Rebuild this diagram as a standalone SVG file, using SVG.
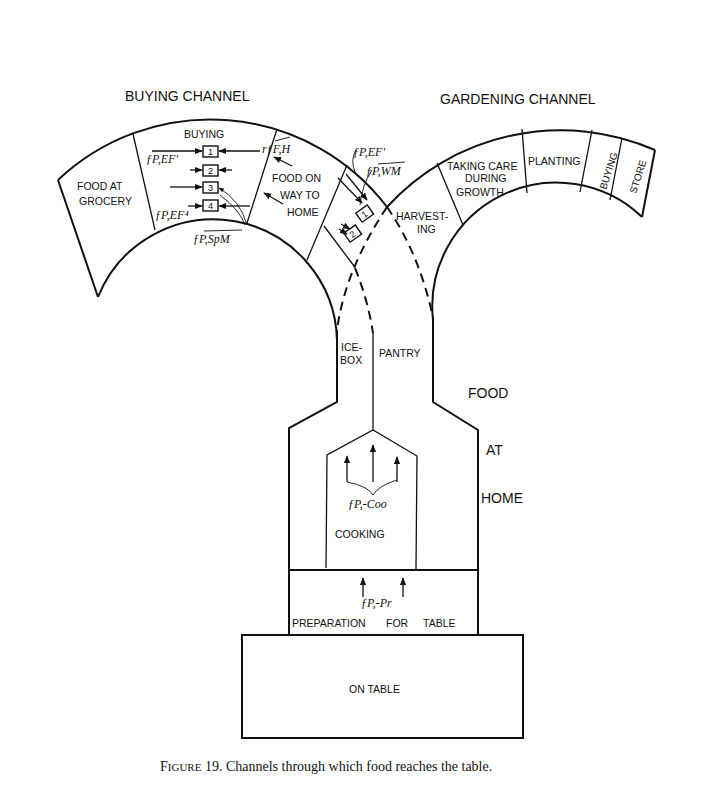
<svg xmlns="http://www.w3.org/2000/svg" width="702" height="804" viewBox="0 0 702 804">
<style>
.s{fill:none;stroke:#111;stroke-width:2}
.t{fill:none;stroke:#111;stroke-width:1.3}
.d{fill:none;stroke:#111;stroke-width:2;stroke-dasharray:9 6}
.th{fill:none;stroke:#111;stroke-width:0.9}
text{font-family:"Liberation Sans",Arial,sans-serif;font-size:10.5px;fill:#111}
.h{font-size:14px}
.n{font-size:9px}
.r{font-size:10px}
.f{font-family:"Liberation Serif",serif;font-style:italic;font-size:12px}
.c{font-family:"Liberation Serif",serif;font-size:14px}
.c2{font-family:"Liberation Serif",serif;font-size:11px}
.b{fill:#fff;stroke:#111;stroke-width:1.4}
</style>
<defs>
<marker id="a" viewBox="0 0 10 10" refX="9" refY="5" markerWidth="6" markerHeight="6" orient="auto"><path d="M0,1 L10,5 L0,9 z" fill="#111"/></marker>
</defs>
<rect width="702" height="804" fill="#fff"/>
<g id="buying-arch">
<path class="s" d="M58,180 A222,222 0 0 1 387,207"/>
<path class="s" d="M98,297 A124,124 0 0 1 337,340"/>
<line class="s" x1="58" y1="180" x2="98" y2="297"/>
<line class="t" x1="133" y1="134" x2="155" y2="230"/>
<line class="t" x1="277" y1="129" x2="247" y2="223"/>
<line class="t" x1="347" y1="165" x2="307" y2="260"/>
<line class="t" x1="324" y1="226" x2="354" y2="266"/>
<text class="h" x="125" y="101">BUYING CHANNEL</text>
<text x="77" y="190">FOOD AT</text><text x="79" y="205">GROCERY</text>
<text x="184" y="138">BUYING</text>
<text x="272" y="182">FOOD ON</text><text x="280" y="199">WAY TO</text><text x="287" y="216">HOME</text>
</g>
<g id="buying-boxes">
<rect class="b" x="203" y="146" width="15" height="11"/><text class="n" x="208" y="155">1</text>
<rect class="b" x="203" y="165" width="15" height="11"/><text class="n" x="208" y="174">2</text>
<rect class="b" x="203" y="182" width="15" height="11"/><text class="n" x="208" y="191">3</text>
<rect class="b" x="203" y="200" width="15" height="11"/><text class="n" x="208" y="209">4</text>
<text class="f" x="146" y="163">ƒP,EF'</text>
<text class="f" x="155" y="219">ƒP,EF⁴</text>
<text class="f" x="193" y="243">ƒP,SpM</text>
<line class="th" x1="204" y1="231" x2="242" y2="230"/>
<text class="f" x="262" y="153">rƒF,H</text>
<line class="th" x1="275" y1="141" x2="290" y2="137"/>
</g>
<g id="harvest-boxes">
<g transform="rotate(-35 365 214)"><rect class="b" x="358" y="208" width="14" height="11"/><text class="n" x="362" y="217">1</text></g>
<g transform="rotate(-35 353 234)"><rect class="b" x="346" y="228" width="14" height="11"/><text class="n" x="350" y="237">2</text></g>
<text class="f" x="353" y="156">ƒP,EF'</text>
<text class="f" x="366" y="175">ƒP,WM</text>
<line class="th" x1="378" y1="164" x2="405" y2="162"/>
</g>
<g id="garden-arch">
<path class="s" d="M387,207 A235,235 0 0 1 655,150"/>
<path class="s" d="M433,320 A124,124 0 0 1 642,217"/>
<line class="s" x1="655" y1="150" x2="642" y2="217"/>
<line class="t" x1="437" y1="163" x2="463" y2="225"/>
<line class="t" x1="522" y1="129" x2="527" y2="193"/>
<line class="t" x1="592" y1="130" x2="580" y2="192"/>
<line class="t" x1="622" y1="138" x2="610" y2="200"/>
<text class="h" x="440" y="104">GARDENING CHANNEL</text>
<text x="396" y="220">HARVEST-</text><text x="417" y="233">ING</text>
<text x="447" y="170">TAKING CARE</text><text x="465" y="182">DURING</text><text x="456" y="196">GROWTH</text>
<text x="528" y="165">PLANTING</text>
<text class="r" transform="translate(606,190) rotate(-72)">BUYING</text>
<text class="r" transform="translate(636,194) rotate(-72)">STORE</text>
</g>
<g id="home">
<path class="s" d="M337,330 L337,402 L289,428 L289,635"/>
<path class="s" d="M433,318 L433,402 L478,430 L478,635"/>
<line class="t" x1="373" y1="333" x2="373" y2="430"/>
<path class="t" d="M326,568 L327,455 L373,430 L417,456 L416,569"/>
<line class="s" x1="289" y1="570" x2="478" y2="570"/>
<rect class="s" x="242" y="635" width="281" height="103"/>
<text x="341" y="351">ICE-</text><text x="340" y="364">BOX</text>
<text x="379" y="357">PANTRY</text>
<text class="h" x="468" y="398">FOOD</text>
<text class="h" x="486" y="455">AT</text>
<text class="h" x="481" y="503">HOME</text>
<text class="f" x="348" y="508">ƒP,-Coo</text>
<text x="335" y="538">COOKING</text>
<text class="f" x="361" y="607">ƒP,-Pr</text>
<text x="292" y="627">PREPARATION</text><text x="386" y="627">FOR</text><text x="423" y="627">TABLE</text>
<text x="349" y="693">ON TABLE</text>
</g>
<g id="connectors">
<path class="d" d="M387,207 Q420,255 433,318"/>
<path class="d" d="M387,207 Q345,270 337,330"/>
<path class="d" d="M355,268 Q368,300 373,333"/>
<line class="t" x1="152" y1="151" x2="202" y2="151" marker-end="url(#a)"/>
<line class="t" x1="260" y1="151" x2="219" y2="151" marker-end="url(#a)"/>
<line class="t" x1="190" y1="170" x2="202" y2="170" marker-end="url(#a)"/>
<line class="t" x1="232" y1="170" x2="219" y2="170" marker-end="url(#a)"/>
<line class="t" x1="170" y1="187" x2="202" y2="187" marker-end="url(#a)"/>
<path class="th" d="M247,225 Q240,200 219,188" marker-end="url(#a)"/>
<path class="th" d="M245,225 Q240,210 220,195"/>
<line class="t" x1="188" y1="206" x2="202" y2="206" marker-end="url(#a)"/>
<line class="t" x1="250" y1="206" x2="219" y2="206" marker-end="url(#a)"/>
<line class="t" x1="292" y1="166" x2="274" y2="157" marker-end="url(#a)"/>
<line class="t" x1="283" y1="204" x2="264" y2="193" marker-end="url(#a)"/>
<line class="t" x1="338" y1="178" x2="362" y2="203" marker-end="url(#a)"/>
<line class="t" x1="346" y1="174" x2="367" y2="200" marker-end="url(#a)"/>
<line class="t" x1="341" y1="224" x2="350" y2="229" marker-end="url(#a)"/>
<line class="t" x1="339" y1="229" x2="347" y2="234" marker-end="url(#a)"/>
<path class="th" d="M355,172 Q350,160 356,150"/>
<path class="th" d="M360,205 Q362,185 372,170"/>
<line class="t" x1="347" y1="482" x2="347" y2="456" marker-end="url(#a)"/>
<line class="t" x1="373" y1="482" x2="373" y2="445" marker-end="url(#a)"/>
<line class="t" x1="397" y1="482" x2="397" y2="457" marker-end="url(#a)"/>
<path class="th" d="M347,482 Q368,486 373,495 Q378,486 397,480"/>
<line class="t" x1="363" y1="597" x2="363" y2="578" marker-end="url(#a)"/>
<line class="t" x1="403" y1="597" x2="403" y2="578" marker-end="url(#a)"/>
</g>
<text class="c" x="160" y="771">F<tspan class="c2">IGURE</tspan> 19.   Channels through which food reaches the table.</text>
</svg>
